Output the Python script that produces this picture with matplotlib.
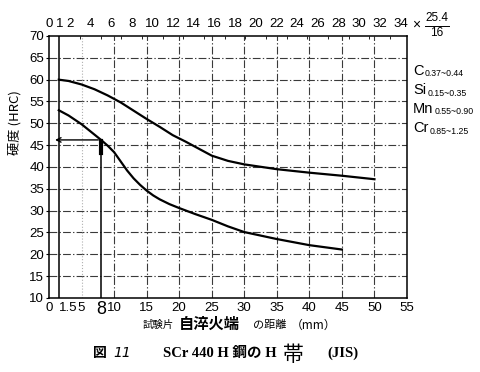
import matplotlib
matplotlib.use("Agg")
import matplotlib.pyplot as plt
from matplotlib.transforms import blended_transform_factory

# ---------------- data ----------------
upper_mm = [1.5, 3, 5, 7, 9, 11, 13, 15, 17, 19, 21, 23, 25, 27.5, 30, 35, 40, 45, 50]
upper_hrc = [60, 59.7, 58.9, 57.8, 56.4, 54.8, 52.9, 51.0, 49.2, 47.3, 45.8, 44.2,
             42.6, 41.4, 40.6, 39.5, 38.7, 38.0, 37.2]
lower_mm = [1.5, 3, 5, 7, 8, 9, 10, 11, 12, 13, 14, 15, 16, 17, 18.5, 20, 22.5, 25,
            27.5, 30, 35, 40, 45]
lower_hrc = [53, 51.8, 49.8, 47.4, 46.2, 44.9, 43.4, 41.3, 39.2, 37.4, 35.9, 34.6,
             33.5, 32.6, 31.5, 30.6, 29.2, 27.9, 26.4, 25.1, 23.5, 22.1, 21.1]

y_ticks = [10, 15, 20, 25, 30, 35, 40, 45, 50, 55, 60, 65, 70]
x_ticks = [0, 1.5, 5, 10, 15, 20, 25, 30, 35, 40, 45, 50, 55]
x_tick_labels = ["0", "1.5", "5", "10", "15", "20", "25", "30", "35", "40", "45", "50", "55"]
top_ticks = [0, 1, 2, 4, 6, 8, 10, 12, 14, 16, 18, 20, 22, 24, 26, 28, 30, 32, 34]
grid_x = [5, 10, 15, 20, 25, 30, 35, 40, 45, 50]
mark_mm = 8
mark_hrc = 46.2
composition = [("C", "0.37~0.44"), ("Si", "0.15~0.35"),
               ("Mn", "0.55~0.90"), ("Cr", "0.85~1.25")]

SIXTEENTH = 25.4 / 16

W, H = 480, 372
def fx(px): return px / W
def fy(py): return 1 - py / H

num_font = "Liberation Sans"
jp = ["Noto Sans CJK JP", "DejaVu Sans"]
serif_jp = ["Liberation Serif", "Noto Sans CJK JP"]

fig = plt.figure(figsize=(4.8, 3.72), dpi=100)
fig.patch.set_facecolor("white")
ax = fig.add_axes([fx(49), fy(298), fx(407) - fx(49), (298 - 36) / H])
ax.set_xlim(0, 55)
ax.set_ylim(10, 70)

# grid
dash = (0, (7, 2, 1.2, 2))
for yv in y_ticks[1:-1]:
    ax.axhline(yv, color="#3a3a3a", lw=0.8, ls=dash, zorder=1)
for xv in grid_x:
    ax.axvline(xv, color="#3a3a3a" if xv != 5 else "#b0b0b0", lw=0.8,
               ls=dash if xv != 5 else ":", zorder=1)
# solid line at 1.5 mm
ax.axvline(1.5, color="black", lw=1.1, zorder=2)
# solid line at 8 mm from curve down
ax.plot([mark_mm, mark_mm], [10, mark_hrc], color="black", lw=1.1, zorder=2)
ax.plot([mark_mm, mark_mm], [43.3, 46.0], color="black", lw=3.0, zorder=3)
# horizontal arrow to the axis
ax.annotate("", xy=(0.5, mark_hrc), xytext=(mark_mm, mark_hrc),
            arrowprops=dict(arrowstyle="->", lw=1.0, color="black",
                            mutation_scale=8), zorder=3)

# curves
ax.plot(upper_mm, upper_hrc, color="black", lw=1.6, zorder=4)
ax.plot(lower_mm, lower_hrc, color="black", lw=1.6, zorder=4)

for s in ax.spines.values():
    s.set_linewidth(1.1)
    s.set_color("black")

ax.set_yticks(y_ticks)
ax.set_yticklabels([str(v) for v in y_ticks], fontsize=9.5, family=num_font)
ax.set_xticks(x_ticks)
ax.set_xticklabels(x_tick_labels, fontsize=9.5, family=num_font)
ax.tick_params(axis="y", length=2, pad=1.5, width=0.8)
ax.tick_params(axis="x", length=0, pad=3)
lbls = ax.get_xticklabels()
lbls[1].set_horizontalalignment("left")

tr = blended_transform_factory(ax.transData, ax.transAxes)
ax.text(mark_mm, -0.045, "8", transform=tr, ha="center", va="center",
        fontsize=13, family=num_font)

# top axis (1/16 inch)
ax2 = ax.twiny()
ax2.set_xlim(0, 55 / SIXTEENTH)
ax2.set_xticks(top_ticks)
ax2.set_xticklabels([str(v) for v in top_ticks], fontsize=9.5, family=num_font)
ax2.set_xticks(range(0, 35), minor=True)
ax2.tick_params(axis="x", which="major", direction="in", length=0, pad=4)
ax2.tick_params(axis="x", which="minor", direction="in", length=2.5, width=0.6)
for s in ax2.spines.values():
    s.set_visible(False)

fig.text(fx(416), fy(25), "×", fontsize=10, family=num_font, ha="center", va="center")
fig.text(fx(437), fy(18), "25.4", fontsize=8.5, family=num_font, ha="center", va="center")
fig.lines.append(plt.Line2D([fx(425), fx(449)], [fy(25.5), fy(25.5)], color="black",
                            lw=0.7, transform=fig.transFigure))
fig.text(fx(437), fy(33), "16", fontsize=8.5, family=num_font, ha="center", va="center")

# y label
fig.text(fx(15), fy(123), "硬度 (HRC)", rotation=90, fontsize=9.5, family=jp,
         ha="center", va="center")

# composition
renderer = fig.canvas.get_renderer()
for i, (el, rng) in enumerate(composition):
    yy = fy(71 + i * 19)
    t = fig.text(fx(413), yy, el, fontsize=10.5, family=num_font,
                 ha="left", va="center")
    bb = t.get_window_extent(renderer=renderer)
    fig.text(bb.x1 / W + 1 / W, yy - 3 / H, rng, fontsize=6.3, family=num_font,
             ha="left", va="center")

# x label
fig.text(fx(143), fy(325), "試験片", fontsize=7.5, family=jp, ha="left", va="center")
fig.text(fx(179), fy(324), "自淬火端", fontsize=11, family=jp, weight="bold",
         ha="left", va="center")
fig.text(fx(253), fy(325), "の距離", fontsize=8, family=jp, ha="left", va="center")
fig.text(fx(291), fy(325), "（mm）", fontsize=8.5, family=jp, ha="left", va="center")

# title
fig.text(fx(93), fy(353), "図", fontsize=10, family=jp, weight="bold", ha="left", va="center")
fig.text(fx(113), fy(353), "11", fontsize=10, family=["DejaVu Sans"], style="italic",
         ha="left", va="center")
fig.text(fx(163), fy(353), "SCr 440 H 鋼の H", fontsize=10.5, family=serif_jp,
         weight="bold", ha="left", va="center")
fig.text(fx(283), fy(355), "帯", fontsize=15, family=jp, ha="left", va="center")
fig.text(fx(327), fy(353), "(JIS)", fontsize=10.5, family=serif_jp, weight="bold",
         ha="left", va="center")

fig.savefig("out.png", dpi=100, facecolor="white")
